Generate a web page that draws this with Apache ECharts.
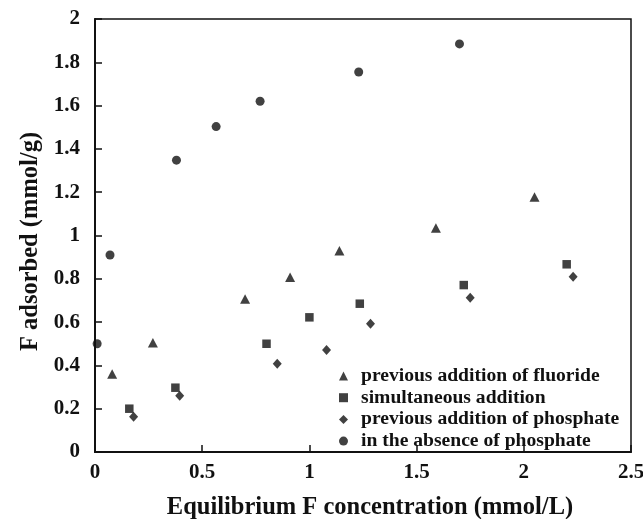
<!DOCTYPE html>
<html>
<head>
<meta charset="utf-8">
<script src="https://cdn.jsdelivr.net/npm/echarts@6/dist/echarts.min.js"></script>
<style>
html,body{margin:0;padding:0;background:#fff;}
#chart{width:643px;height:519px;}
</style>
</head>
<body>
<div id="chart"></div>
<script>
// Data
var seriesNames = [
  'previous addition of fluoride',
  'simultaneous addition',
  'previous addition of phosphate',
  'in the absence of phosphate'
];
var fluorideFirstX = [0.08, 0.27, 0.70, 0.91, 1.14, 1.59, 2.05];
var fluorideFirstY = [0.36, 0.505, 0.707, 0.807, 0.93, 1.035, 1.178];
var simultaneousX = [0.16, 0.375, 0.80, 1.00, 1.235, 1.72, 2.20];
var simultaneousY = [0.20, 0.297, 0.50, 0.622, 0.685, 0.771, 0.867];
var phosphateFirstX = [0.18, 0.395, 0.85, 1.08, 1.285, 1.75, 2.23];
var phosphateFirstY = [0.163, 0.26, 0.408, 0.471, 0.592, 0.713, 0.81];
var absenceX = [0.01, 0.07, 0.38, 0.565, 0.77, 1.23, 1.70];
var absenceY = [0.50, 0.91, 1.348, 1.503, 1.62, 1.755, 1.885];
var xTicks = [0, 0.5, 1, 1.5, 2, 2.5];
var yTicks = [0, 0.2, 0.4, 0.6, 0.8, 1, 1.2, 1.4, 1.6, 1.8, 2];

function pairs(xs, ys) { return xs.map(function (x, i) { return [x, ys[i]]; }); }

var FONT = 'Liberation Serif';
var INK = '#111';

var chart = echarts.init(document.getElementById('chart'), null, {renderer: 'canvas'});
var symbols = ['triangle', 'rect', 'diamond', 'circle'];
var sizes = [[10, 9.5], 8.5, [9, 10], 9];
var datas = [
  pairs(fluorideFirstX, fluorideFirstY),
  pairs(simultaneousX, simultaneousY),
  pairs(phosphateFirstX, phosphateFirstY),
  pairs(absenceX, absenceY)
];

chart.setOption({
  animation: false,
  backgroundColor: '#fff',
  grid: {
    left: 95, top: 19, right: 12, bottom: 67,
    containLabel: false, outerBoundsMode: 'none',
    show: true, borderColor: INK, borderWidth: 1.5, backgroundColor: 'transparent'
  },
  xAxis: {
    type: 'value', min: xTicks[0], max: xTicks[xTicks.length - 1], interval: 0.5,
    name: 'Equilibrium F concentration (mmol/L)',
    nameLocation: 'middle', nameGap: 43,
    nameTextStyle: {fontFamily: FONT, fontWeight: 'bold', fontSize: 24.5, color: INK, padding: [0, 0, 0, 14]},
    axisLine: {show: true, onZero: false, lineStyle: {color: INK, width: 2}},
    axisTick: {show: true, inside: true, length: 7, lineStyle: {color: INK, width: 1.5}},
    axisLabel: {fontFamily: FONT, fontWeight: 'bold', fontSize: 21, color: INK, margin: 10},
    splitLine: {show: false}
  },
  yAxis: {
    type: 'value', min: yTicks[0], max: yTicks[yTicks.length - 1], interval: 0.2,
    name: 'F adsorbed (mmol/g)',
    nameLocation: 'middle', nameGap: 48, nameRotate: 90,
    nameTextStyle: {fontFamily: FONT, fontWeight: 'bold', fontSize: 24.5, color: INK, padding: [0, 12, 0, 0]},
    axisLine: {show: true, onZero: false, lineStyle: {color: INK, width: 2}},
    axisTick: {show: true, inside: true, length: 7, lineStyle: {color: INK, width: 1.5}},
    axisLabel: {fontFamily: FONT, fontWeight: 'bold', fontSize: 21, color: INK, margin: 15},
    splitLine: {show: false}
  },
  legend: {
    orient: 'vertical', left: 334, top: 361,
    itemWidth: 9, itemHeight: 9, itemGap: 1.7,
    textStyle: {fontFamily: FONT, fontWeight: 'bold', fontSize: 19.6, color: INK, lineHeight: 20, padding: [0, 0, 0, 8]},
    data: seriesNames
  },
  series: seriesNames.map(function (name, i) {
    return {
      name: name, type: 'scatter', data: datas[i],
      symbol: symbols[i], symbolSize: sizes[i],
      itemStyle: {color: INK}
    };
  })
});
</script>
</body>
</html>
